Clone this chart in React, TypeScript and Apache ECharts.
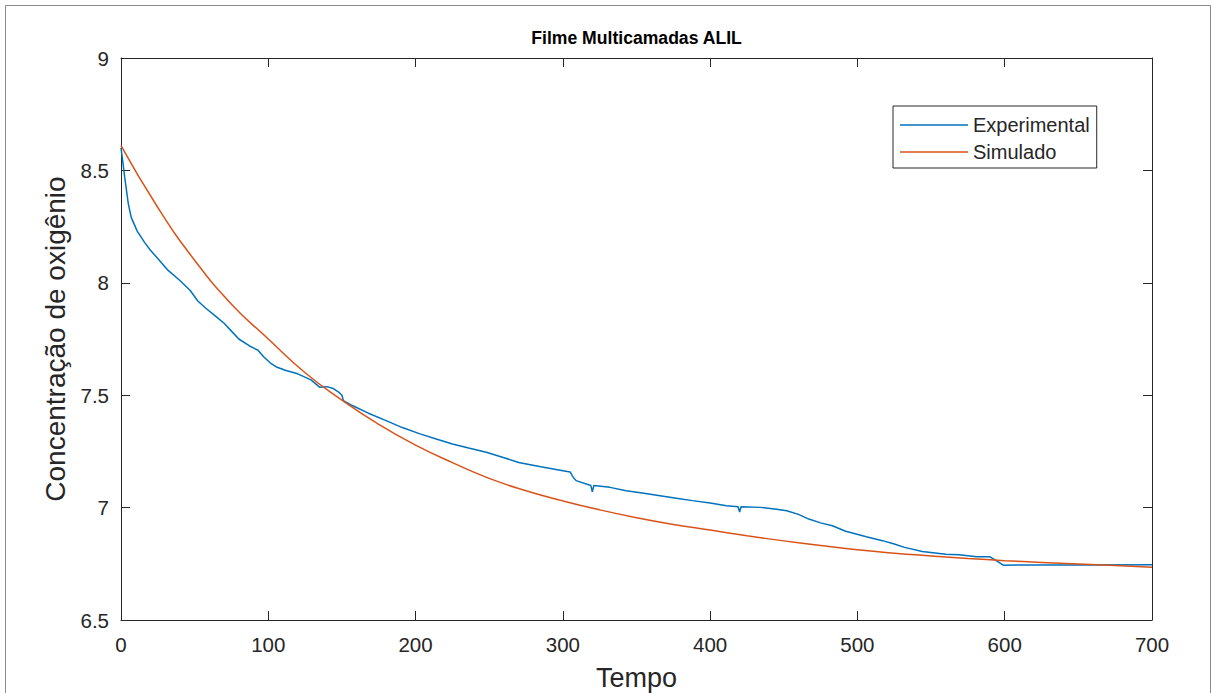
import React, { useEffect, useRef } from "react";
import * as echarts from "echarts";

const chartTitle = "Filme Multicamadas ALIL";
const xName = "Tempo";
const yName = "Concentração de oxigênio";
const seriesNames = ["Experimental", "Simulado"];

const expTime = [
  0, 1, 2.5, 5, 7, 11, 16, 20, 26, 32, 40, 47, 52, 57, 65, 70, 75, 80, 87, 93, 97, 102, 106, 112, 120, 129,
  135, 140, 144, 148, 150, 151, 157, 168, 180, 191, 203, 214, 225, 236, 248, 259, 270, 285, 300, 305, 307,
  309, 319, 320, 321, 332, 343, 355, 366, 377, 388, 400, 411, 419, 420, 421, 434, 445, 452, 460, 467, 475,
  483, 492, 501, 506, 517, 525, 532, 544, 560, 569, 581, 590, 594, 599, 620, 650, 700,
];
const expValue = [
  8.6, 8.55, 8.47, 8.35, 8.29, 8.23, 8.18, 8.145, 8.1, 8.055, 8.01, 7.966, 7.92, 7.89, 7.847, 7.82, 7.785,
  7.75, 7.72, 7.7, 7.67, 7.64, 7.624, 7.61, 7.595, 7.568, 7.535, 7.538, 7.53, 7.513, 7.5, 7.476, 7.454, 7.42,
  7.387, 7.356, 7.328, 7.305, 7.283, 7.265, 7.246, 7.224, 7.201, 7.182, 7.164, 7.158, 7.135, 7.12, 7.098,
  7.07, 7.098, 7.09, 7.075, 7.064, 7.053, 7.042, 7.031, 7.02, 7.008, 7.004, 6.98, 7.004, 7.001, 6.993,
  6.986, 6.97, 6.949, 6.932, 6.919, 6.895, 6.879, 6.87, 6.853, 6.838, 6.823, 6.805, 6.793, 6.79, 6.781,
  6.781, 6.765, 6.744, 6.745, 6.745, 6.746,
];

const simTime = [
  0, 25, 50, 75, 100, 125, 150, 175, 200, 225, 250, 275, 300, 325, 350, 375, 400, 425, 450, 475, 500, 525,
  550, 575, 600, 625, 650, 675, 700,
];
const simValue = [
  8.61, 8.335, 8.1, 7.905, 7.75, 7.6, 7.478, 7.37, 7.278, 7.2, 7.13, 7.075, 7.03, 6.99, 6.955, 6.925, 6.9,
  6.875, 6.852, 6.831, 6.812, 6.797, 6.785, 6.774, 6.764, 6.756, 6.749, 6.742, 6.735,
];

const xTicks = { min: 0, max: 700, interval: 100 };
const yTicks = { min: 6.5, max: 9, interval: 0.5 };

const FONT = '"Liberation Sans", Arial, Helvetica, sans-serif';
const AX = "#262626";

export default function App() {
  const ref = useRef<HTMLDivElement>(null);
  useEffect(() => {
    if (!ref.current) return;
    const chart = echarts.init(ref.current, undefined, { renderer: "svg" });
    const expData = expTime.map((t, i) => [t, expValue[i]]);
    const simData = simTime.map((t, i) => [t, simValue[i]]);
    const axisCommon = {
      type: "value" as const,
      axisLine: { show: true, onZero: false, lineStyle: { color: AX, width: 1 } },
      axisTick: { show: true, inside: true, length: 9, lineStyle: { color: AX, width: 1 } },
      splitLine: { show: false },
    };
    chart.setOption({
      animation: false,
      backgroundColor: "#ffffff",
      textStyle: { fontFamily: FONT },
      grid: { left: 121, top: 58, right: 62, bottom: 73, containLabel: false, outerBoundsMode: "none" },
      xAxis: [
        {
          ...axisCommon,
          position: "bottom",
          ...xTicks,
          name: xName,
          nameLocation: "middle",
          nameGap: 44,
          nameTextStyle: { color: AX, fontSize: 27, fontFamily: FONT },
          axisLabel: { color: AX, fontSize: 20.5, margin: 14, fontFamily: FONT },
        },
        {
          ...axisCommon,
          position: "top",
          ...xTicks,
          axisLabel: { show: false },
        },
      ],
      yAxis: [
        {
          ...axisCommon,
          position: "left",
          ...yTicks,
          name: yName,
          nameLocation: "middle",
          nameGap: 50,
          nameTextStyle: { color: AX, fontSize: 28, fontFamily: FONT },
          axisLabel: { color: AX, fontSize: 20.5, margin: 12, fontFamily: FONT },
        },
        {
          ...axisCommon,
          position: "right",
          ...yTicks,
          axisLabel: { show: false },
        },
      ],
      legend: {
        show: true,
        left: 893,
        top: 106,
        orient: "vertical",
        data: seriesNames.map((n) => ({ name: n, icon: "rect" })),
        itemWidth: 68,
        itemHeight: 1.6,
        itemGap: 7,
        padding: [9, 7, 6, 7],
        borderColor: AX,
        borderWidth: 1,
        backgroundColor: "#ffffff",
        textStyle: { color: AX, fontSize: 20, lineHeight: 20, fontFamily: FONT },
      },
      graphic: [
        {
          type: "text",
          x: 636.5,
          y: 38,
          style: {
            text: chartTitle,
            fontSize: 17.6,
            fontWeight: "bold",
            fontFamily: FONT,
            fill: "#000000",
            textAlign: "center",
            textVerticalAlign: "middle",
          },
        },
        {
          type: "polyline",
          shape: { points: [[5.5, 700], [5.5, 5.5], [1210.5, 5.5], [1210.5, 700]] },
          style: { stroke: "#8a8a8a", lineWidth: 1, fill: "none" },
          silent: true,
        },
      ],
      series: [
        {
          name: seriesNames[0],
          type: "line",
          data: expData,
          symbol: "none",
          showSymbol: false,
          smooth: false,
          color: "#0072BD",
          lineStyle: { color: "#0072BD", width: 1.5 },
          xAxisIndex: 0,
          yAxisIndex: 0,
        },
        {
          name: seriesNames[1],
          type: "line",
          data: simData,
          symbol: "none",
          showSymbol: false,
          smooth: true,
          color: "#D95319",
          lineStyle: { color: "#D95319", width: 1.5 },
          xAxisIndex: 0,
          yAxisIndex: 0,
        },
      ],
    });
    return () => chart.dispose();
  }, []);
  return (
    <div
      ref={ref}
      style={{ position: "absolute", left: 0, top: 0, width: 1214, height: 693, background: "#fff" }}
    />
  );
}
